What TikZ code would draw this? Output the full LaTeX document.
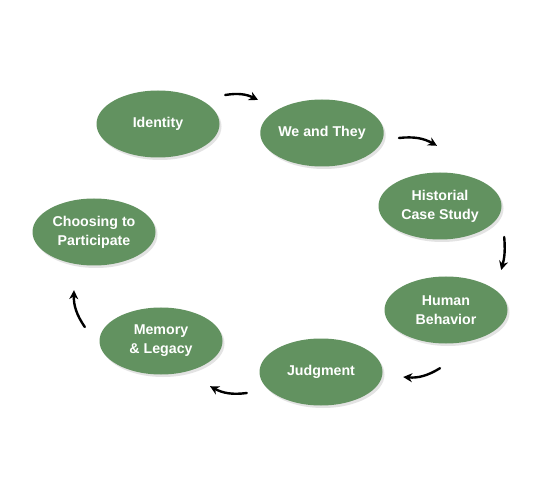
\documentclass[tikz,border=0pt]{standalone}
\usepackage{fontspec}
\setmainfont{Liberation Sans}
\usetikzlibrary{shapes.geometric,shadows,arrows.meta}
\definecolor{leaf}{RGB}{98,146,96}
\tikzset{
  stage/.style={ellipse, fill=leaf, draw=none, minimum width=123pt, minimum height=67pt,
    inner sep=0pt, align=center, text=white, font=\bfseries\fontsize{14.2}{19}\selectfont,
    drop shadow={opacity=0.22, shadow xshift=2pt, shadow yshift=-2.5pt}},
  cyc/.style={line width=2.4pt, line cap=round, -{Stealth[length=9pt,width=9pt]}, bend left=18}
}
\begin{document}
\begin{tikzpicture}[x=1pt,y=1pt]
\useasboundingbox[fill=white] (0,0) rectangle (560,480);
\node[stage] (id) at (158,356) {Identity};
\node[stage] (wt) at (322,347) {We and They};
\node[stage] (hc) at (440,274) {Historial\\Case Study};
\node[stage] (hb) at (446,170) {Human\\Behavior};
\node[stage] (jd) at (321,108) {Judgment};
\node[stage] (ml) at (161,139) {Memory\\\&~Legacy};
\node[stage] (cp) at (94,248) {Choosing to\\Participate};
\draw[cyc] ([shift={(5.5,29)}]id.east) to ([shift={(-2,33)}]wt.west);
\draw[cyc] ([shift={(15,-5)}]wt.east) to ([shift={(-3,26.5)}]hc.north);
\draw[cyc, bend left=10] ([shift={(2.5,-31)}]hc.east) to ([shift={(-6.5,40)}]hb.east);
\draw[cyc] ([shift={(-6,-24.5)}]hb.south) to ([shift={(20.5,-5)}]jd.east);
\draw[cyc] ([shift={(-12.5,-21)}]jd.west) to ([shift={(49,-11.5)}]ml.south);
\draw[cyc] ([shift={(-14.5,14)}]ml.west) to ([shift={(-20,-24.5)}]cp.south);
\end{tikzpicture}
\end{document}
